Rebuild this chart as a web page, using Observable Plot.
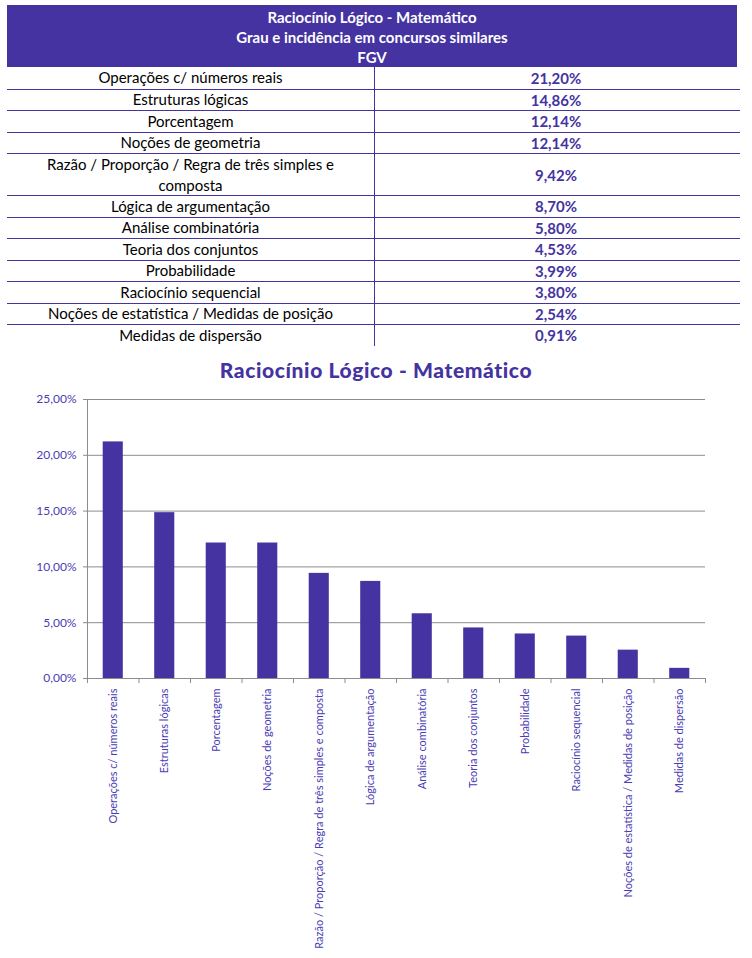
<!DOCTYPE html>
<html>
<head>
<meta charset="utf-8">
<script src="https://cdn.jsdelivr.net/npm/d3@7"></script>
<script src="https://cdn.jsdelivr.net/npm/@observablehq/plot@0.6"></script>
<style>
  html, body { margin: 0; padding: 0; background: #fff; }
  #page { position: relative; width: 752px; height: 958px; overflow: hidden; }
  #header {
    position: absolute; left: 7px; top: 5px; width: 730px; height: 62px;
    background: #4433a0; color: #fff; font-family: Lato, sans-serif; font-weight: bold;
    font-size: 15px; text-align: center; line-height: 20px; padding-top: 2px; box-sizing: border-box;
  }
  #rows { position: absolute; left: 7px; top: 67px; width: 733px; }
  .row { display: flex; border-top: 1px solid #4433a0; box-sizing: border-box; }
  .row:first-child { border-top: none; }
  .lab { width: 368px; border-right: 1px solid #4433a0; text-align: center;
         font-family: Lato, sans-serif; font-size: 15px; color: #000; white-space: pre-line;
         display: flex; align-items: center; justify-content: center; line-height: 21px; box-sizing: border-box; }
  .val { flex: 1; text-align: center; font-family: Lato, sans-serif; font-weight: bold; font-size: 15px;
         color: #4433a0; display: flex; align-items: center; justify-content: center; padding-right: 3px; }
  #ctitle { position: absolute; left: 0; top: 357px; width: 752px; text-align: center;
            font-family: Lato, sans-serif; font-weight: 900; font-size: 21px; color: #4433a0; letter-spacing: 0.6px; }
  #chart { position: absolute; left: 0; top: 385px; }
</style>
</head>
<body>
<div id="page">
  <div id="header"></div>
  <div id="rows"></div>
  <div id="ctitle"></div>
  <div id="chart"></div>
</div>
<script>
const headerLines = ["Raciocínio Lógico - Matemático", "Grau e incidência em concursos similares", "FGV"];
const chartTitle = "Raciocínio Lógico - Matemático";
const topics = [
  "Operações c/ números reais",
  "Estruturas lógicas",
  "Porcentagem",
  "Noções de geometria",
  "Razão / Proporção / Regra de três simples e composta",
  "Lógica de argumentação",
  "Análise combinatória",
  "Teoria dos conjuntos",
  "Probabilidade",
  "Raciocínio sequencial",
  "Noções de estatística / Medidas de posição",
  "Medidas de dispersão"
];
const tableLabels = [
  "Operações c/ números reais",
  "Estruturas lógicas",
  "Porcentagem",
  "Noções de geometria",
  "Razão / Proporção / Regra de três simples e\ncomposta",
  "Lógica de argumentação",
  "Análise combinatória",
  "Teoria dos conjuntos",
  "Probabilidade",
  "Raciocínio sequencial",
  "Noções de estatística / Medidas de posição",
  "Medidas de dispersão"
];
const values = [21.20, 14.86, 12.14, 12.14, 9.42, 8.70, 5.80, 4.53, 3.99, 3.80, 2.54, 0.91];
const yTicks = [0, 5, 10, 15, 20, 25];

const fmt = v => v.toFixed(2).replace(".", ",") + "%";

// Header
document.getElementById("header").innerHTML = headerLines.map(t => `<div>${t}</div>`).join("");
document.getElementById("ctitle").textContent = chartTitle;

// Table rows
const rowsEl = document.getElementById("rows");
tableLabels.forEach((lab, i) => {
  const two = lab.includes("\n");
  const row = document.createElement("div");
  row.className = "row";
  row.style.height = (two ? 42 : 21.5) + "px";
  const l = document.createElement("div");
  l.className = "lab"; l.textContent = lab;
  const v = document.createElement("div");
  v.className = "val"; v.textContent = fmt(values[i]);
  row.appendChild(l); row.appendChild(v);
  rowsEl.appendChild(row);
});

// Chart
const data = topics.map((t, i) => ({topic: t, value: values[i]}));
const W = 752, H = 573, mL = 87, mR = 47, mT = 14, mB = 280;
const step = (W - mL - mR) / topics.length;
const gray = "#8c8c8c";
const labColor = "#4a3cb4";

const chart = Plot.plot({
  width: W, height: H,
  marginLeft: mL, marginRight: mR, marginTop: mT, marginBottom: mB,
  style: {fontFamily: "Lato, sans-serif", background: "transparent", overflow: "visible"},
  x: {domain: topics, paddingInner: 0.61, paddingOuter: 0.305, round: false, axis: null, label: null},
  y: {domain: [0, 25], axis: null, label: null},
  marks: [
    Plot.gridY(yTicks, {stroke: gray, strokeOpacity: 1, strokeWidth: 1}),
    Plot.ruleX([topics[0]], {x: d => d, y1: 0, y2: 25, dx: -step / 2, stroke: gray}),
    Plot.ruleX(topics, {x: d => d, y1: 0, y2: 0, insetBottom: -5, dx: -step / 2, stroke: gray}),
    Plot.ruleX([topics[topics.length - 1]], {x: d => d, y1: 0, y2: 0, insetBottom: -5, dx: step / 2, stroke: gray}),
    Plot.barY(data, {x: "topic", y: "value", fill: "#4433a0"}),
    Plot.axisY(yTicks, {tickSize: 4, stroke: gray, tickPadding: 7, tickFormat: fmt, fontSize: 12, color: labColor, label: null}),
    Plot.axisX({tickSize: 0, tickRotate: -90, tickPadding: 10, fontSize: 11, color: labColor, textOverflow: null, label: null})
  ]
});
document.getElementById("chart").appendChild(chart);
</script>
</body>
</html>
